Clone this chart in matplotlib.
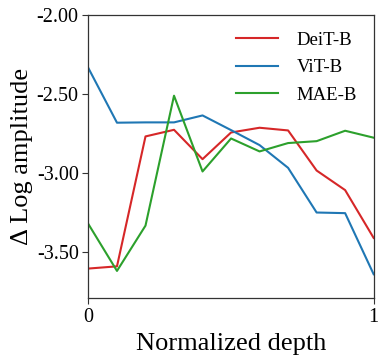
import matplotlib
matplotlib.use("Agg")
import matplotlib.pyplot as plt
import numpy as np

plt.rcParams['font.family'] = ['Liberation Serif', 'DejaVu Serif']

depth = [0.0, 0.1, 0.2, 0.3, 0.4, 0.5, 0.6, 0.7, 0.8, 0.9, 1.0]
deit_b = [-3.607, -3.593, -2.770, -2.728, -2.914, -2.745, -2.715, -2.732, -2.986, -3.110, -3.413]
vit_b = [-2.338, -2.683, -2.681, -2.681, -2.637, -2.730, -2.825, -2.969, -3.252, -3.256, -3.643]
mae_b = [-3.326, -3.622, -3.335, -2.512, -2.992, -2.783, -2.865, -2.812, -2.800, -2.734, -2.778]
yticks = [-2.0, -2.5, -3.0, -3.5]
xticks = [0, 1]

fig = plt.figure(figsize=(3.88, 3.63), dpi=100)
ax = fig.add_axes([0.228, 0.178, 0.735, 0.781])

ax.plot(depth, deit_b, color='#d62728', lw=1.5, label='DeiT-B')
ax.plot(depth, vit_b, color='#1f77b4', lw=1.5, label='ViT-B')
ax.plot(depth, mae_b, color='#2ca02c', lw=1.5, label='MAE-B')

ax.set_xlim(0, 1)
ax.set_ylim(-3.796, -2.0)
ax.set_xticks(xticks)
ax.set_xticklabels(['0', '1'])
ax.set_yticks(yticks)
ax.set_yticklabels([f'{v:.2f}' for v in yticks])
ax.tick_params(labelsize=14.5, length=4, width=0.8, color='#333333', pad=3)
for s in ax.spines.values():
    s.set_color('#333333')
    s.set_linewidth(0.9)

ax.set_xlabel('Normalized depth', fontsize=19, labelpad=4)
ax.set_ylabel('Δ Log amplitude', fontsize=19, labelpad=3)

ax.legend(loc='upper right', frameon=False, fontsize=13.5, handlelength=2.2,
          handletextpad=1.0, labelspacing=0.55, borderaxespad=0.5)

fig.savefig('out.png', dpi=100)
